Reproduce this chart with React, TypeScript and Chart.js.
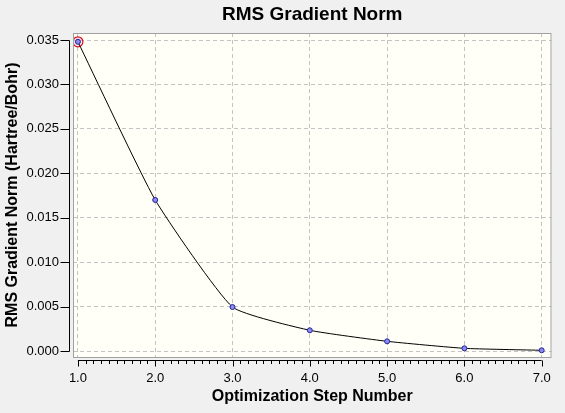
import React, { useEffect, useRef } from "react";
import { Chart, registerables } from "chart.js";

Chart.register(...registerables);

// Optimization history: RMS gradient norm per step
const steps = [1, 2, 3, 4, 5, 6, 7];
const rmsGradient = [0.0348, 0.017, 0.00495, 0.00233, 0.00109, 0.0003, 0.00008];
const xTickValues = [1, 2, 3, 4, 5, 6, 7];
const yTickValues = [0, 0.005, 0.01, 0.015, 0.02, 0.025, 0.03, 0.035];
const highlightedStep = 0;

const FONT = "'Liberation Sans', Arial, sans-serif";
const PAGE_BG = "#f0f0f0";
const PLOT_BG = "#fffff7";

// Frame, axes offset from the plot area, and minor ticks on the step axis
const framePlugin = {
  id: "frame",
  beforeDraw(chart: any) {
    const { ctx, chartArea: a, width, height } = chart;
    ctx.save();
    ctx.fillStyle = PAGE_BG;
    ctx.fillRect(0, 0, width, height);
    ctx.fillStyle = PLOT_BG;
    ctx.fillRect(a.left, a.top, a.right - a.left, a.bottom - a.top);
    ctx.restore();
  },
  afterDraw(chart: any) {
    const { ctx, chartArea: a, scales } = chart;
    const xs = scales.x;
    const ys = scales.y;
    ctx.save();
    ctx.strokeStyle = "#a0a0a0";
    ctx.lineWidth = 1;
    ctx.strokeRect(a.left + 0.5, a.top + 0.5, a.right - a.left - 1, a.bottom - a.top);

    ctx.strokeStyle = "#000";
    // step axis
    const axY = Math.round(a.bottom + 3) + 0.5;
    const x0 = xs.getPixelForValue(xTickValues[0]);
    const x1 = xs.getPixelForValue(xTickValues[xTickValues.length - 1]);
    ctx.beginPath();
    ctx.moveTo(x0, axY);
    ctx.lineTo(x1, axY);
    for (let i = 0; i <= (xTickValues.length - 1) * 10; i++) {
      const v = xTickValues[0] + i / 10;
      const px = Math.round(xs.getPixelForValue(v)) + 0.5;
      const len = i % 10 === 0 ? 6 : 3.5;
      ctx.moveTo(px, axY);
      ctx.lineTo(px, axY + len);
    }
    ctx.stroke();

    // gradient axis
    const axX = Math.round(a.left - 3) - 0.5;
    const yTop = ys.getPixelForValue(yTickValues[yTickValues.length - 1]);
    const yBot = ys.getPixelForValue(yTickValues[0]);
    ctx.beginPath();
    ctx.moveTo(axX, Math.round(yTop) + 0.5);
    ctx.lineTo(axX, Math.round(yBot) + 0.5);
    yTickValues.forEach((v) => {
      const py = Math.round(ys.getPixelForValue(v)) + 0.5;
      ctx.moveTo(axX, py);
      ctx.lineTo(axX - 9, py);
    });
    ctx.stroke();
    ctx.restore();
  },
};

export default function App() {
  const canvasRef = useRef<HTMLCanvasElement | null>(null);

  useEffect(() => {
    document.body.style.margin = "0";
    document.body.style.background = PAGE_BG;
    const canvas = canvasRef.current;
    if (!canvas) return;

    const points = steps.map((s, i) => ({ x: s, y: rmsGradient[i] }));

    const chart = new Chart(canvas, {
      type: "line",
      data: {
        datasets: [
          {
            label: "RMS Gradient Norm",
            data: points,
            borderColor: "#000000",
            borderWidth: 1,
            tension: 0.15,
            pointRadius: 2.5,
            pointBackgroundColor: "#8a8af0",
            pointBorderColor: "#25259a",
            pointBorderWidth: 1,
            fill: false,
          },
          {
            label: "Current step",
            data: [points[highlightedStep]],
            showLine: false,
            pointRadius: 5,
            pointBackgroundColor: "rgba(255,170,200,0.3)",
            pointBorderColor: "#d81020",
            pointBorderWidth: 1.2,
          },
        ],
      },
      options: {
        responsive: false,
        animation: false,
        events: [],
        layout: { padding: { left: 3, right: 5, top: 0, bottom: 6.4 } },
        plugins: {
          legend: { display: false },
          tooltip: { enabled: false },
          title: {
            display: true,
            text: "RMS Gradient Norm",
            fullSize: false,
            color: "#000",
            font: { family: FONT, size: 19, weight: "bold", lineHeight: 1.2 },
            padding: { top: 3.6, bottom: 6.6 },
          },
        },
        scales: {
          x: {
            type: "linear",
            min: 0.9364,
            max: 7.127,
            afterBuildTicks: (s: any) => {
              s.ticks = xTickValues.map((v) => ({ value: v }));
            },
            afterFit: (s: any) => {
              s.height = 49.6;
            },
            grid: { color: "#c4c4c4", lineWidth: 1, drawTicks: false },
            border: { display: false, dash: [4, 3] },
            ticks: {
              padding: 14,
              color: "#000",
              maxRotation: 0,
              autoSkip: false,
              font: { family: FONT, size: 13 },
              callback: (v: any) => Number(v).toFixed(1),
            },
            title: {
              display: true,
              text: "Optimization Step Number",
              color: "#000",
              font: { family: FONT, size: 16, weight: "bold", lineHeight: 1.2 },
              padding: 0,
            },
          },
          y: {
            type: "linear",
            min: -0.000675,
            max: 0.035788,
            afterBuildTicks: (s: any) => {
              s.ticks = yTickValues.map((v) => ({ value: v }));
            },
            afterFit: (s: any) => {
              s.width = 70;
            },
            grid: { color: "#c4c4c4", lineWidth: 1, drawTicks: false },
            border: { display: false, dash: [4, 3] },
            ticks: {
              padding: 14,
              color: "#000",
              autoSkip: false,
              font: { family: FONT, size: 13 },
              callback: (v: any) => Number(v).toFixed(3),
            },
            title: {
              display: true,
              text: "RMS Gradient Norm (Hartree/Bohr)",
              color: "#000",
              font: { family: FONT, size: 16, weight: "bold", lineHeight: 1.2 },
              padding: 0,
            },
          },
        },
      },
      plugins: [framePlugin],
    } as any);

    return () => chart.destroy();
  }, []);

  return <canvas ref={canvasRef} width={565} height={413} style={{ display: "block" }} />;
}
